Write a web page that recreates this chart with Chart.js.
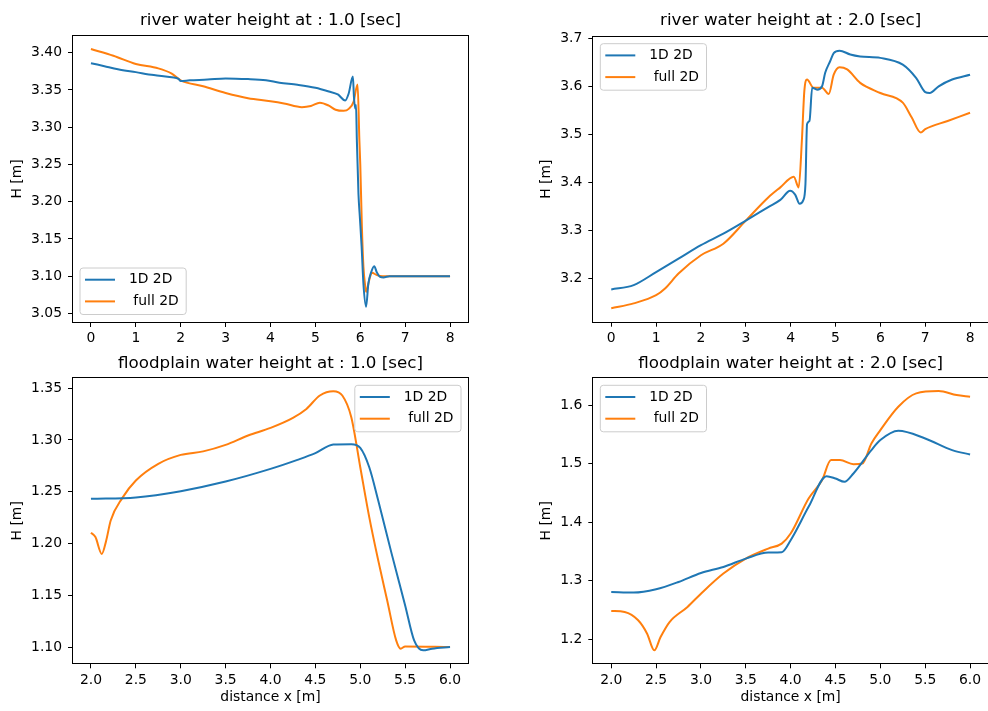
<!DOCTYPE html>
<html>
<head>
<meta charset="utf-8">
<script src="https://cdn.jsdelivr.net/npm/chart.js@4.4.0/dist/chart.umd.min.js"></script>
<style>
  body { margin: 0; background: #fff; width: 988px; height: 711px; overflow: hidden; position: relative; }
  canvas { position: absolute; }
</style>
</head>
<body>
<canvas id="riverT1"></canvas>
<canvas id="riverT2"></canvas>
<canvas id="floodT1"></canvas>
<canvas id="floodT2"></canvas>
<script>
// series names as they appear in the legends
const seriesLabels = [' 1D 2D', '  full 2D']

// river water height, t = 1.0 s
const river1X_1d = [0, 0.3, 0.6, 1.0, 1.4, 1.8, 1.95, 2.0, 2.2, 2.6, 3.0, 3.5, 3.9, 4.2, 4.6, 5.0, 5.3, 5.5, 5.664, 5.74, 5.835, 5.86, 5.886, 5.905, 5.924, 5.96, 5.99, 6.03, 6.07, 6.13, 6.18, 6.24, 6.31, 6.37, 6.44, 6.52, 6.65, 7.0, 8.0]
const river1H_1d = [3.386, 3.382, 3.378, 3.374, 3.370, 3.367, 3.365, 3.362, 3.363, 3.364, 3.3656, 3.3647, 3.363, 3.3598, 3.357, 3.353, 3.348, 3.344, 3.336, 3.345, 3.368, 3.34, 3.325, 3.33, 3.2825, 3.21, 3.18, 3.14, 3.09, 3.059, 3.09, 3.105, 3.1135, 3.105, 3.0992, 3.0984, 3.10, 3.10, 3.10]
const river1X_2d = [0, 0.5, 1.0, 1.5, 1.8, 2.0, 2.5, 3.0, 3.5, 4.0, 4.3, 4.7, 4.9, 5.1, 5.3, 5.45, 5.63, 5.75, 5.85, 5.94, 5.98, 6.0, 6.036, 6.07, 6.11, 6.131, 6.2, 6.258, 6.37, 6.5, 7.0, 8.0]
const river1H_2d = [3.405, 3.396, 3.385, 3.379, 3.372, 3.363, 3.355, 3.346, 3.339, 3.335, 3.332, 3.327, 3.3285, 3.333, 3.329, 3.3235, 3.322, 3.325, 3.334, 3.3575, 3.2825, 3.25, 3.166, 3.113, 3.087, 3.079, 3.095, 3.1046, 3.1015, 3.10, 3.10, 3.10]

// river water height, t = 2.0 s
const river2X_1d = [0, 0.5, 1, 1.5, 2, 2.5, 3, 3.5, 3.77, 3.99, 4.1, 4.2, 4.28, 4.33, 4.365, 4.42, 4.48, 4.59, 4.7, 4.77, 4.88, 4.96, 5.09, 5.33, 5.55, 6.0, 6.5, 6.8, 7.0, 7.1, 7.3, 7.6, 8.0]
const river2H_1d = [3.178, 3.187, 3.214, 3.242, 3.270, 3.294, 3.321, 3.349, 3.364, 3.383, 3.375, 3.356, 3.363, 3.397, 3.521, 3.528, 3.597, 3.593, 3.600, 3.628, 3.652, 3.669, 3.674, 3.666, 3.662, 3.659, 3.645, 3.617, 3.588, 3.586, 3.600, 3.614, 3.624]
const river2X_2d = [0, 0.5, 1, 1.2, 1.5, 2, 2.5, 3, 3.5, 3.77, 4.07, 4.18, 4.25, 4.305, 4.365, 4.51, 4.7, 4.85, 4.96, 5.09, 5.26, 5.55, 6, 6.5, 6.7, 6.9, 7.0, 7.5, 8]
const river2H_2d = [3.139, 3.149, 3.166, 3.180, 3.211, 3.249, 3.273, 3.321, 3.369, 3.39, 3.412, 3.39, 3.487, 3.59, 3.614, 3.597, 3.597, 3.584, 3.624, 3.6395, 3.635, 3.607, 3.586, 3.566, 3.535, 3.504, 3.511, 3.528, 3.545]

// floodplain water height, t = 1.0 s
const flood1X_1d = [2.0, 2.5, 3.0, 3.5, 4.0, 4.3, 4.5, 4.7, 4.9, 5.0, 5.1, 5.2, 5.35, 5.5, 5.6, 5.7, 5.8, 6.0]
const flood1H_1d = [1.2432, 1.2445, 1.2506, 1.2599, 1.2721, 1.2808, 1.2873, 1.2956, 1.296, 1.2924, 1.2737, 1.2416, 1.190, 1.1402, 1.1064, 1.0968, 1.0984, 1.10]
const flood1X_2d = [2.0, 2.05, 2.12, 2.17, 2.22, 2.35, 2.5, 2.75, 3.0, 3.25, 3.5, 3.75, 4.0, 4.25, 4.4, 4.55, 4.7, 4.8, 4.9, 5.0, 5.1, 5.2, 5.3, 5.4, 5.45, 5.5, 6.0]
const flood1H_2d = [1.2104, 1.2062, 1.190, 1.203, 1.2223, 1.2441, 1.2609, 1.277, 1.2856, 1.289, 1.2953, 1.3043, 1.3117, 1.3214, 1.330, 1.343, 1.3471, 1.343, 1.322, 1.2737, 1.2255, 1.1837, 1.145, 1.1064, 1.0984, 1.1006, 1.10]

// floodplain water height, t = 2.0 s
const flood2X_1d = [2.0, 2.25, 2.5, 2.75, 3.0, 3.25, 3.5, 3.75, 3.9, 4.0, 4.2, 4.4, 4.5, 4.6, 4.7, 4.9, 5.0, 5.2, 5.5, 5.8, 6.0]
const flood2H_1d = [1.2809, 1.2798, 1.2855, 1.298, 1.3134, 1.3236, 1.3379, 1.3481, 1.3487, 1.3692, 1.4262, 1.4786, 1.4746, 1.4689, 1.4832, 1.5231, 1.5402, 1.5561, 1.543, 1.5231, 1.5157]
const flood2X_2d = [2.0, 2.15, 2.3, 2.4, 2.48, 2.55, 2.65, 2.85, 3.0, 3.25, 3.5, 3.75, 3.9, 4.0, 4.2, 4.35, 4.45, 4.55, 4.7, 4.8, 4.9, 5.0, 5.2, 5.4, 5.65, 5.85, 6.0]
const flood2H_2d = [1.2484, 1.2467, 1.2325, 1.2097, 1.1812, 1.204, 1.2296, 1.2553, 1.278, 1.3123, 1.3379, 1.355, 1.3635, 1.3806, 1.4405, 1.4718, 1.506, 1.506, 1.4991, 1.5003, 1.5345, 1.5573, 1.5972, 1.6199, 1.6239, 1.6171, 1.6142]

// tick marks
const riverXTicks = [0, 1, 2, 3, 4, 5, 6, 7, 8]
const floodXTicks = [2.0, 2.5, 3.0, 3.5, 4.0, 4.5, 5.0, 5.5, 6.0]
const river1YTicks = [3.05, 3.10, 3.15, 3.20, 3.25, 3.30, 3.35, 3.40]
const river2YTicks = [3.2, 3.3, 3.4, 3.5, 3.6, 3.7]
const flood1YTicks = [1.10, 1.15, 1.20, 1.25, 1.30, 1.35]
const flood2YTicks = [1.2, 1.3, 1.4, 1.5, 1.6]

const blue = '#1f77b4'
const orange = '#ff7f0e'
const FONT = 'DejaVu Sans'

Chart.defaults.font.family = FONT
Chart.defaults.font.size = 13.9
Chart.defaults.color = '#000'

function points(xs, ys) {
  return xs.map((x, i) => ({ x: x, y: ys[i] }))
}

// matplotlib draws a box round the axes
const framePlugin = {
  id: 'frame',
  afterDraw(chart) {
    const { ctx, chartArea: a } = chart
    const l = Math.round(a.left) - 0.5, t = Math.round(a.top) - 0.5
    const r = Math.round(a.right) + 0.5, b = Math.round(a.bottom) + 0.5
    ctx.save()
    ctx.strokeStyle = '#000'
    ctx.lineWidth = 1
    ctx.strokeRect(l, t, r - l, b - t)
    ctx.restore()
  }
}

// legend box drawn inside the axes, like plt.legend(loc='best')
const boxLegendPlugin = {
  id: 'boxLegend',
  afterDatasetsDraw(chart, args, opts) {
    const { ctx, chartArea: a } = chart
    ctx.save()
    ctx.font = '13.9px "' + FONT + '"'
    const textW = Math.max(...chart.data.datasets.map(d => ctx.measureText(d.label).width))
    const w = 44.5 + textW + 7.5, h = 46.5
    const x = opts.loc.includes('left') ? a.left + 7 : a.right - 7 - w
    const y = opts.loc.includes('upper') ? a.top + 7 : a.bottom - 7.5 - h
    ctx.beginPath()
    ctx.roundRect(x, y, w, h, 3)
    ctx.fillStyle = 'rgba(255,255,255,0.8)'
    ctx.fill()
    ctx.strokeStyle = '#cccccc'
    ctx.lineWidth = 1
    ctx.stroke()
    chart.data.datasets.forEach((d, i) => {
      const cy = y + 11.7 + i * 21.7
      ctx.beginPath()
      ctx.moveTo(x + 5, cy)
      ctx.lineTo(x + 35, cy)
      ctx.strokeStyle = d.borderColor
      ctx.lineWidth = 2
      ctx.stroke()
      ctx.fillStyle = '#000'
      ctx.textBaseline = 'middle'
      ctx.fillText(d.label, x + 44.5, cy)
    })
    ctx.restore()
  }
}

// box: canvas position on the page, area: wanted axes frame on the page
function makePanel(id, box, area, p) {
  const canvas = document.getElementById(id)
  canvas.width = box.w
  canvas.height = box.h
  canvas.style.left = box.x + 'px'
  canvas.style.top = box.y + 'px'

  const L = area.l - box.x, T = area.t - box.y, R = area.r - box.x, B = area.b - box.y
  const padLeft = p.yTitleX - box.x - 10.34

  const axisGrid = { drawOnChartArea: false, drawTicks: true, tickLength: 5, tickColor: '#000', tickWidth: 1 }

  new Chart(canvas, {
    type: 'line',
    data: {
      datasets: [
        { label: seriesLabels[0], data: points(p.x1, p.y1), borderColor: blue },
        { label: seriesLabels[1], data: points(p.x2, p.y2), borderColor: orange }
      ]
    },
    options: {
      responsive: false,
      animation: false,
      devicePixelRatio: 1,
      events: [],
      layout: { padding: { left: padLeft, right: box.w - R, top: 0, bottom: 0 } },
      elements: {
        point: { radius: 0 },
        line: { borderWidth: 2, cubicInterpolationMode: 'monotone', fill: false }
      },
      plugins: {
        legend: { display: false },
        tooltip: { enabled: false },
        title: {
          display: true,
          text: p.title,
          fullSize: false,
          color: '#000',
          font: { size: 16.7, weight: 'normal' },
          padding: { top: p.titleTop, bottom: T - p.titleTop - 20.04 }
        },
        boxLegend: { loc: p.loc }
      },
      scales: {
        x: {
          type: 'linear',
          min: p.xMin,
          max: p.xMax,
          grid: axisGrid,
          border: { display: false },
          afterBuildTicks: s => { s.ticks = p.xTicks.map(v => ({ value: v })) },
          afterFit: s => { s.height = box.h - B },
          ticks: {
            autoSkip: false,
            maxRotation: 0,
            padding: 3.3,
            color: '#000',
            callback: v => v.toFixed(p.xDec)
          },
          title: {
            display: !!p.xTitle,
            text: p.xTitle || '',
            color: '#000',
            padding: { top: 0, bottom: 5.5 }
          }
        },
        y: {
          type: 'linear',
          min: p.yMin,
          max: p.yMax,
          grid: axisGrid,
          border: { display: false },
          afterBuildTicks: s => { s.ticks = p.yTicks.map(v => ({ value: v })) },
          afterFit: s => { s.width = L - padLeft },
          ticks: {
            autoSkip: false,
            padding: 6,
            color: '#000',
            callback: v => v.toFixed(p.yDec)
          },
          title: {
            display: true,
            text: 'H [m]',
            color: '#000',
            padding: { top: 2, bottom: 0 }
          }
        }
      }
    },
    plugins: [framePlugin, boxLegendPlugin]
  })
}

makePanel('riverT1', { x: 0, y: 0, w: 494, h: 345 }, { l: 73, t: 36, r: 468, b: 322 }, {
  title: 'river water height at : 1.0 [sec]', titleTop: 10.9, yTitleX: 17.5, loc: 'lower left',
  x1: river1X_1d, y1: river1H_1d, x2: river1X_2d, y2: river1H_2d,
  xMin: -0.4, xMax: 8.4, xTicks: riverXTicks, xDec: 0,
  yMin: 3.0385, yMax: 3.4225, yTicks: river1YTicks, yDec: 2
})

makePanel('riverT2', { x: 494, y: 0, w: 494, h: 345 }, { l: 593.3, t: 36.7, r: 988, b: 321.7 }, {
  title: 'river water height at : 2.0 [sec]', titleTop: 10.9, yTitleX: 546, loc: 'upper left',
  x1: river2X_1d, y1: river2H_1d, x2: river2X_2d, y2: river2H_2d,
  xMin: -0.4, xMax: 8.4, xTicks: riverXTicks, xDec: 0,
  yMin: 3.111, yMax: 3.703, yTicks: river2YTicks, yDec: 1
})

makePanel('floodT1', { x: 0, y: 345, w: 494, h: 366 }, { l: 73, t: 378.3, r: 468, b: 663.3 }, {
  title: 'floodplain water height at : 1.0 [sec]', titleTop: 8.5, yTitleX: 17.3, loc: 'upper right',
  x1: flood1X_1d, y1: flood1H_1d, x2: flood1X_2d, y2: flood1H_2d,
  xMin: 1.8, xMax: 6.2, xTicks: floodXTicks, xDec: 1, xTitle: 'distance x [m]',
  yMin: 1.0843, yMax: 1.3596, yTicks: flood1YTicks, yDec: 2
})

makePanel('floodT2', { x: 494, y: 345, w: 494, h: 366 }, { l: 593.3, t: 378.3, r: 988, b: 663.3 }, {
  title: 'floodplain water height at : 2.0 [sec]', titleTop: 8.5, yTitleX: 546, loc: 'upper left',
  x1: flood2X_1d, y1: flood2H_1d, x2: flood2X_2d, y2: flood2H_2d,
  xMin: 1.8, xMax: 6.2, xTicks: floodXTicks, xDec: 1, xTitle: 'distance x [m]',
  yMin: 1.1591, yMax: 1.6457, yTicks: flood2YTicks, yDec: 1
})
</script>
</body>
</html>
